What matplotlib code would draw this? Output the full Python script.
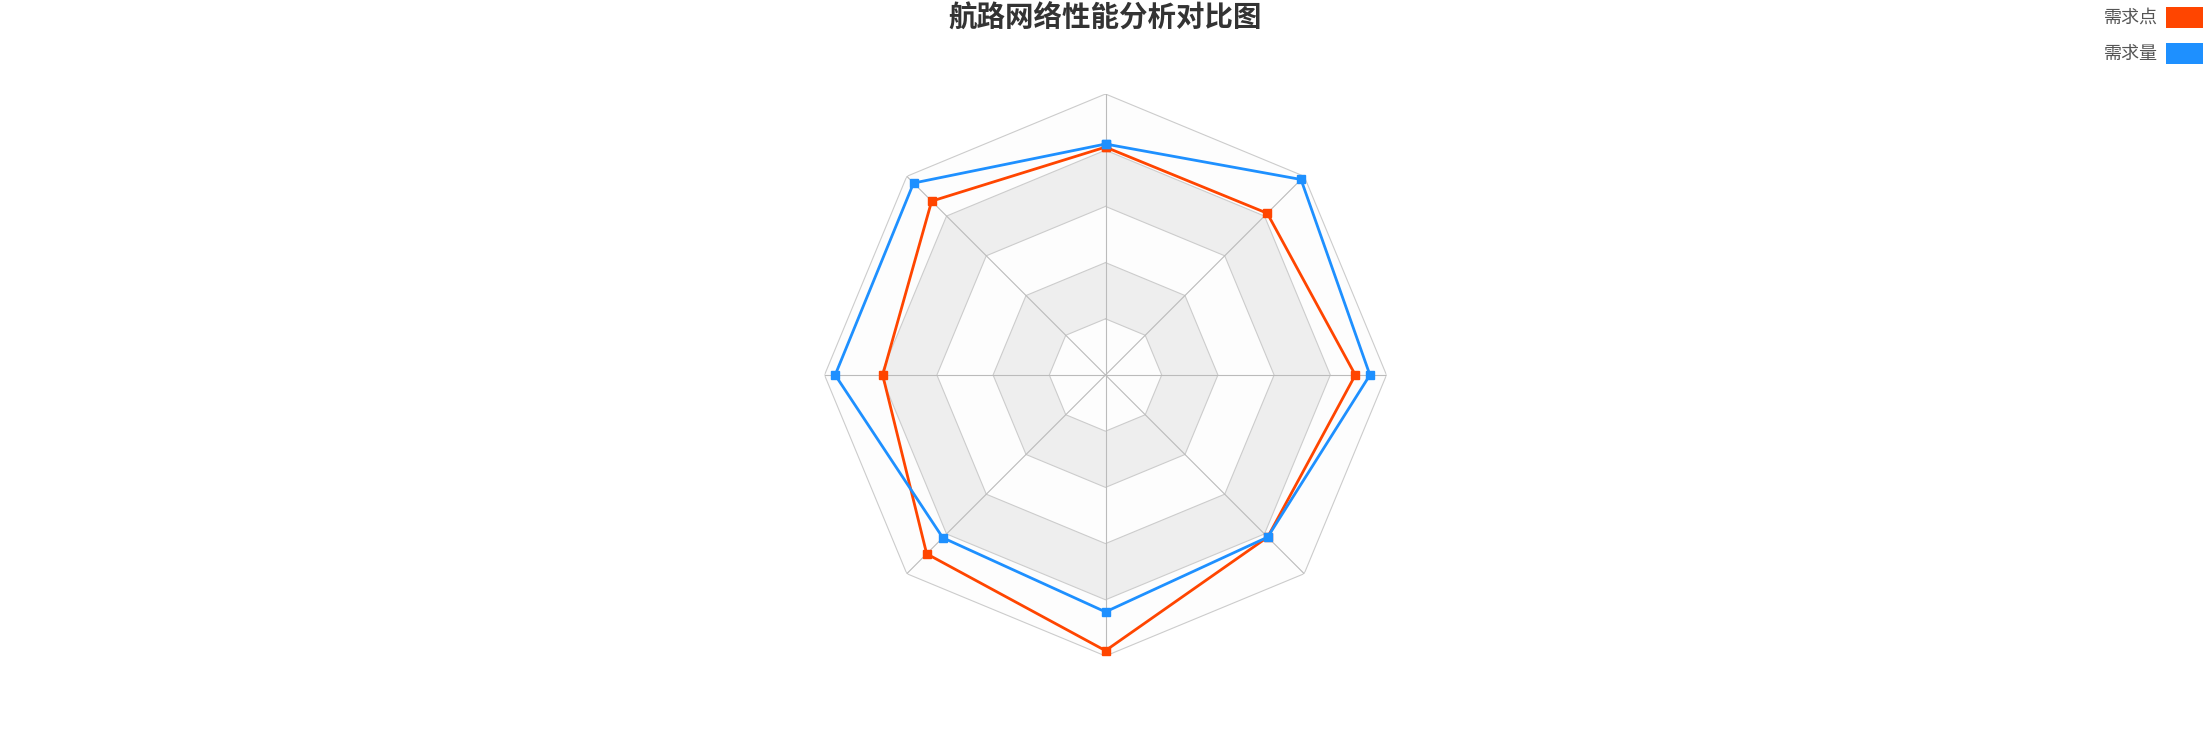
import numpy as np
import matplotlib
matplotlib.use("Agg")
import matplotlib.pyplot as plt
from matplotlib.patches import Rectangle

plt.rcParams['font.family'] = ['Noto Sans CJK SC', 'DejaVu Sans']

# 数据：从顶部开始，逆时针排列的 8 个指标
title = "航路网络性能分析对比图"
series_names = ["需求点", "需求量"]
demand_points = [81.1, 87.5, 79.3, 90.0, 98.1, 81.6, 88.9, 81.4]
demand_volume = [82.2, 96.6, 96.2, 81.9, 84.3, 81.6, 94.1, 98.4]
colors = ["#ff4500", "#1e90ff"]
max_value = 100
n_split = 5

n_axes = len(demand_points)
angles = np.linspace(0, 2 * np.pi, n_axes, endpoint=False)
closed = np.append(angles, angles[0])

W, H = 2211, 750
fig = plt.figure(figsize=(W / 100, H / 100), dpi=100)

R = 281
ax = fig.add_axes([(1105.5 - R) / W, (375 - R) / H, 2 * R / W, 2 * R / H], projection="polar")
ax.set_theta_offset(np.pi / 2)
ax.set_ylim(0, max_value)
ax.grid(False)
ax.set_xticks([])
ax.set_yticks([])
ax.spines['polar'].set_visible(False)
ax.patch.set_alpha(0)

# 分隔区域（交替填充）
band_colors = ["#fdfdfd", "#eeeeee"]
levels = np.linspace(0, max_value, n_split + 1)
for i in range(n_split):
    r_in, r_out = levels[i], levels[i + 1]
    th = np.concatenate([closed, closed[::-1]])
    rr = np.concatenate([np.full(len(closed), r_out), np.full(len(closed), r_in)])
    ax.fill(th, rr, color=band_colors[i % 2], lw=0, zorder=1)

# 分隔线
for lv in levels[1:]:
    ax.plot(closed, np.full(len(closed), lv), color="#cccccc", lw=0.8, zorder=2)
# 轴线
for a in angles:
    ax.plot([a, a], [0, max_value], color="#bbbbbb", lw=0.8, zorder=2)

for vals, c in zip([demand_points, demand_volume], colors):
    v = np.append(vals, vals[0])
    ax.plot(closed, v, color=c, lw=2, marker="s", markersize=5.5, zorder=5, clip_on=False)

fig.text(0.5, 1 - 18 / H, title, ha="center", va="center", fontsize=20.5,
         fontweight="bold", color="#333333")

# 图例
for i, (name, c) in enumerate(zip(series_names, colors)):
    top = 7 + i * 36
    fig.add_artist(Rectangle(((2166) / W, 1 - (top + 21) / H), 37 / W, 21 / H,
                             transform=fig.transFigure, facecolor=c, edgecolor="none"))
    fig.text(2158 / W, 1 - (top + 10.5) / H, name, ha="right", va="center",
             fontsize=13, color="#555555")

fig.savefig("out.png", dpi=100)
